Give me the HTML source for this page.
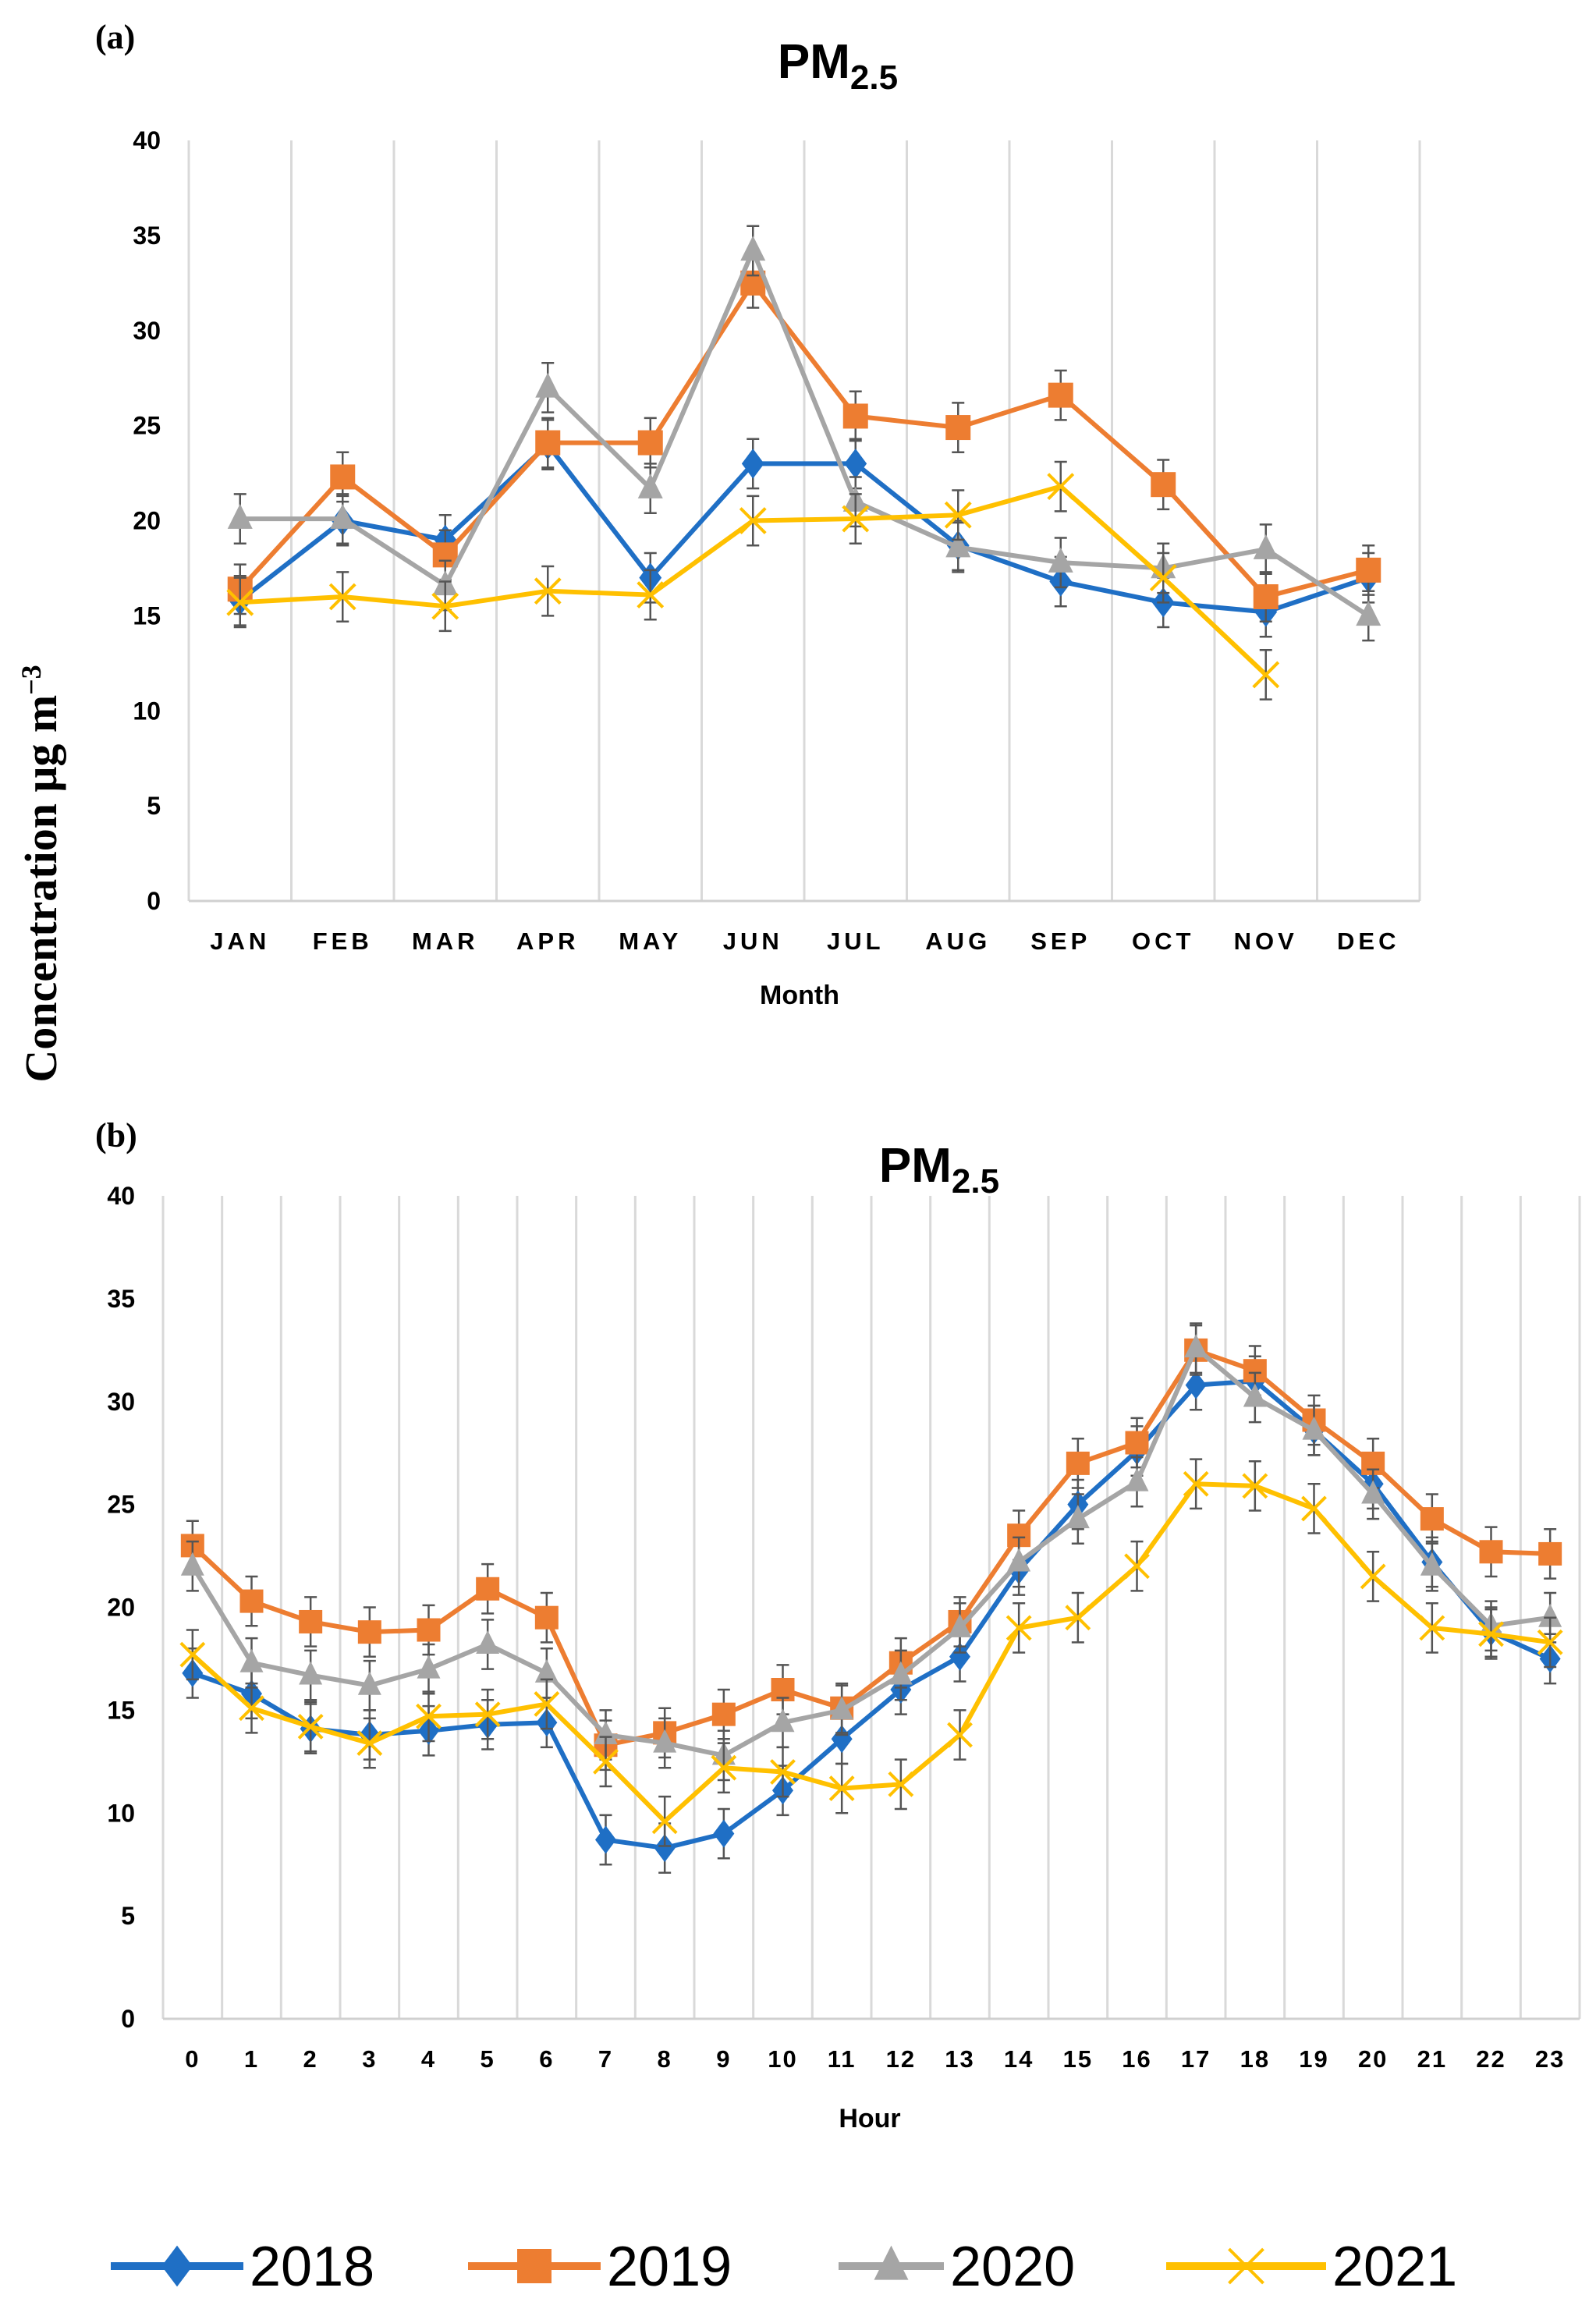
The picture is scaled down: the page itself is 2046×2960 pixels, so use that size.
<!DOCTYPE html>
<html><head><meta charset="utf-8">
<style>
html,body{margin:0;padding:0;background:#fff;}
svg{display:block;}
</style></head>
<body>
<svg id="fig" width="2046" height="2960" viewBox="0 0 2046 2960" xmlns="http://www.w3.org/2000/svg" font-family="Liberation Sans, sans-serif">
  <rect x="0" y="0" width="2046" height="2960" fill="#fff"/>
  <text x="122" y="62" font-family="Liberation Serif, serif" font-weight="bold" font-size="44">(a)</text>
  <text x="122" y="1470" font-family="Liberation Serif, serif" font-weight="bold" font-size="44">(b)</text>
  <text x="1074" y="100" text-anchor="middle" font-weight="bold" font-size="62">PM<tspan font-size="44" dy="14">2.5</tspan></text>
  <text x="1204" y="1515" text-anchor="middle" font-weight="bold" font-size="62">PM<tspan font-size="44" dy="14">2.5</tspan></text>
  <text transform="translate(72,1120) rotate(-90)" text-anchor="middle" font-family="Liberation Serif, serif" font-weight="bold" font-size="58">Concentration μg m<tspan font-size="36" dy="-20">−3</tspan></text>
  <text x="1025" y="1287" text-anchor="middle" font-weight="bold" font-size="34">Month</text>
  <text x="1115" y="2727" text-anchor="middle" font-weight="bold" font-size="34">Hour</text>
  <g id="chartA"></g>
  <g id="chartB"></g>
  <g id="legend"></g>
</svg>
<script>
const months = ["JAN","FEB","MAR","APR","MAY","JUN","JUL","AUG","SEP","OCT","NOV","DEC"];
const a2018 = [15.8,20,19,24,17,23,23,18.7,16.8,15.7,15.2,17];
const a2019 = [16.4,22.3,18.2,24.1,24.1,32.5,25.5,24.9,26.6,21.9,16,17.4];
const a2020 = [20.1,20.1,16.6,27,21.7,34.2,21,18.6,17.8,17.5,18.5,15];
const a2021 = [15.7,16,15.5,16.3,16.1,20,20.1,20.3,21.8,17,11.9,null];
const hours = ["0","1","2","3","4","5","6","7","8","9","10","11","12","13","14","15","16","17","18","19","20","21","22","23"];
const b2018 = [16.8,15.8,14.1,13.8,14,14.3,14.4,8.7,8.3,9,11.1,13.6,16,17.6,21.8,25,27.6,30.8,31,28.6,26,22.2,18.8,17.5];
const b2019 = [23,20.3,19.3,18.8,18.9,20.9,19.5,13.3,13.9,14.8,16,15.1,17.3,19.3,23.5,27,28,32.5,31.5,29.1,27,24.3,22.7,22.6];
const b2020 = [22,17.3,16.7,16.2,17,18.2,16.8,13.8,13.4,12.8,14.4,15,16.7,19,22.2,24.3,26.1,32.6,30.2,28.6,25.5,22,19.1,19.5];
const b2021 = [17.7,15.1,14.2,13.4,14.7,14.8,15.3,12.5,9.6,12.2,12,11.2,11.4,13.8,19,19.5,22,26,25.9,24.8,21.5,19,18.7,18.3];
const yTicks = [0,5,10,15,20,25,30,35,40];
const errA = 1.3, errB = 1.2;
const years = ["2018","2019","2020","2021"];

const NS = "http://www.w3.org/2000/svg";
const colors = ["#1F6FC5","#ED7D31","#A5A5A5","#FFC000"];
const shapes = ["diamond","square","triangle","x"];
function mk(tag, attrs, parent){const el=document.createElementNS(NS,tag);for(const k in attrs)el.setAttribute(k,attrs[k]);parent.appendChild(el);return el;}

function marker(g, shape, x, y, c, s){
  let el;
  if(shape==="diamond") el=mk("polygon",{points:`${x},${y-s*0.6} ${x+s*0.45},${y} ${x},${y+s*0.6} ${x-s*0.45},${y}`,fill:c},g);
  else if(shape==="square") el=mk("rect",{x:x-s/2,y:y-s/2,width:s,height:s,fill:c},g);
  else if(shape==="triangle") el=mk("polygon",{points:`${x},${y-s*0.6} ${x+s*0.5},${y+s*0.4} ${x-s*0.5},${y+s*0.4}`,fill:c},g);
  else el=mk("path",{d:`M${x-s/2},${y-s/2}L${x+s/2},${y+s/2}M${x+s/2},${y-s/2}L${x-s/2},${y+s/2}`,stroke:c,"stroke-width":4,fill:"none"},g);
  return el;
}

function drawChart(gid, cfg){
  const g=document.getElementById(gid);
  const {L,R,T,B,cats,series,err,ms,lw,catFont,catSpacing,catY} = cfg;
  const n=cats.length, bw=(R-L)/n;
  const xs=i=>L+bw*(i+0.5);
  const ys=v=>B-(v/40)*(B-T);
  for(let i=0;i<=n;i++){
    const l=mk("line",{x1:L+bw*i,x2:L+bw*i,y1:T,y2:B,stroke:"#d9d9d9","stroke-width":3},g);
    
    
  }
  const base=mk("line",{x1:L,x2:R,y1:B,y2:B,stroke:"#d0d0d0","stroke-width":3},g);
  
  
  yTicks.forEach(v=>{
    const t=mk("text",{x:L-36,y:ys(v)+11,"text-anchor":"end","font-weight":"bold","font-size":32},g);
    t.textContent=v;
    
    
  });
  cats.forEach((c,i)=>{
    const t=mk("text",{x:xs(i),y:catY,"text-anchor":"middle","font-weight":"bold","font-size":catFont,"letter-spacing":catSpacing},g);
    t.textContent=c;
    
    
  });
  series.forEach((vals,si)=>{
    const sg=mk("g",{},g);
    
    
    const pts=[];
    vals.forEach((v,i)=>{if(v!==null)pts.push(xs(i)+","+ys(v));});
    const pl=mk("polyline",{points:pts.join(" "),fill:"none",stroke:colors[si],"stroke-width":lw,"stroke-linejoin":"round"},sg);
    
    
    vals.forEach((v,i)=>{
      if(v===null)return;
      const x=xs(i),y=ys(v),y1=ys(v+err),y2=ys(v-err);
      const eb=mk("path",{d:`M${x},${y1}L${x},${y2}M${x-8},${y1}L${x+8},${y1}M${x-8},${y2}L${x+8},${y2}`,stroke:"#555","stroke-width":2.5,fill:"none"},sg);
      
      
      const m=marker(sg,shapes[si],x,y,colors[si],ms);
      
      
    });
  });
}

drawChart("chartA",{L:242,R:1820,T:180,B:1155,cats:months,series:[a2018,a2019,a2020,a2021],err:errA,ms:32,lw:6,catFont:31,catSpacing:5,catY:1217});
drawChart("chartB",{L:209,R:2025,T:1533,B:2588,cats:hours,series:[b2018,b2019,b2020,b2021],err:errB,ms:30,lw:6,catFont:31,catSpacing:2,catY:2650});

const lg=document.getElementById("legend");
const legX=[142,600,1075,1495], legLen=[170,170,135,205];
years.forEach((yr,i)=>{
  const eg=mk("g",{},lg);
  
  
  mk("line",{x1:legX[i],x2:legX[i]+legLen[i],y1:2905,y2:2905,stroke:colors[i],"stroke-width":10},eg);
  marker(eg,shapes[i],legX[i]+legLen[i]/2,2905,colors[i],44);
  const t=mk("text",{x:legX[i]+legLen[i]+8,y:2930,"font-size":72},eg);
  t.textContent=yr;
});
</script>
</body></html>
